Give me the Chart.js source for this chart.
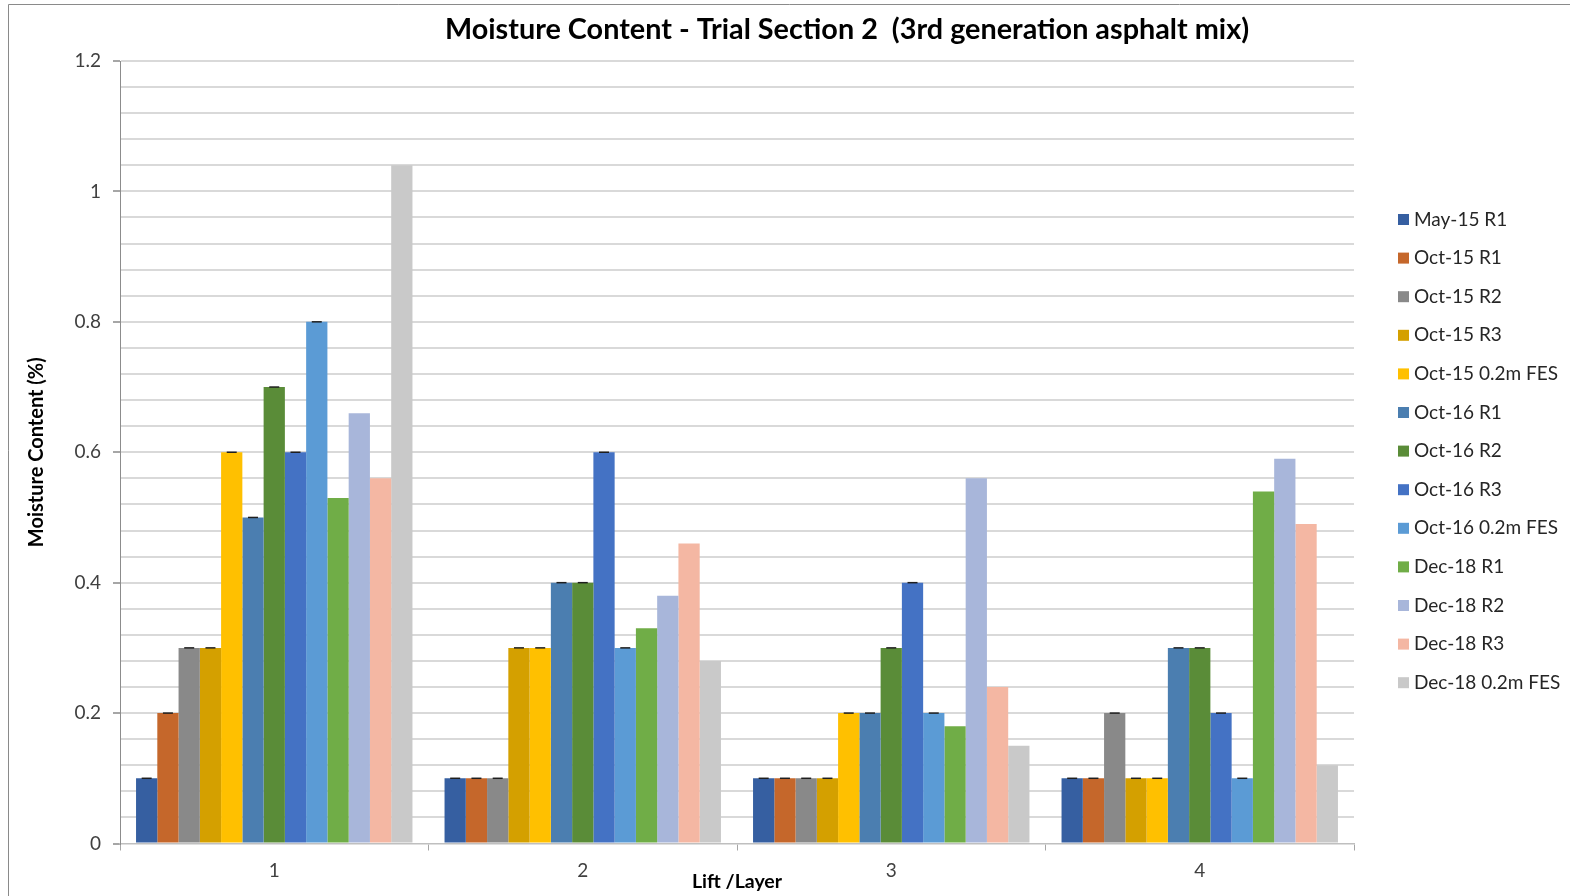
<!DOCTYPE html>
<html>
<head>
<meta charset="utf-8">
<script src="https://cdn.jsdelivr.net/npm/chart.js@4.4.1/dist/chart.umd.min.js"></script>
<style>
  html, body { margin: 0; padding: 0; background: #ffffff; }
  #wrap { width: 1570px; height: 896px; position: relative; }
  canvas { display: block; }
</style>
</head>
<body>
<div id="wrap"><canvas id="chart" width="1570" height="896"></canvas></div>
<script>
// Lift / layer categories
const layers = ['1', '2', '3', '4'];

// Moisture content (%) per sampling round, one value per layer
const may15R1   = [0.1, 0.1, 0.1, 0.1];
const oct15R1   = [0.2, 0.1, 0.1, 0.1];
const oct15R2   = [0.3, 0.1, 0.1, 0.2];
const oct15R3   = [0.3, 0.3, 0.1, 0.1];
const oct15FES  = [0.6, 0.3, 0.2, 0.1];
const oct16R1   = [0.5, 0.4, 0.2, 0.3];
const oct16R2   = [0.7, 0.4, 0.3, 0.3];
const oct16R3   = [0.6, 0.6, 0.4, 0.2];
const oct16FES  = [0.8, 0.3, 0.2, 0.1];
const dec18R1   = [0.53, 0.33, 0.18, 0.54];
const dec18R2   = [0.66, 0.38, 0.56, 0.59];
const dec18R3   = [0.56, 0.46, 0.24, 0.49];
const dec18FES  = [1.04, 0.28, 0.15, 0.12];

const seriesNames = [
  'May-15 R1', 'Oct-15 R1', 'Oct-15 R2', 'Oct-15 R3', 'Oct-15 0.2m FES',
  'Oct-16 R1', 'Oct-16 R2', 'Oct-16 R3', 'Oct-16 0.2m FES',
  'Dec-18 R1', 'Dec-18 R2', 'Dec-18 R3', 'Dec-18 0.2m FES'
];
const seriesValues = [
  may15R1, oct15R1, oct15R2, oct15R3, oct15FES,
  oct16R1, oct16R2, oct16R3, oct16FES,
  dec18R1, dec18R2, dec18R3, dec18FES
];
// Rounds reported with (zero-width) error bars
const withErrorBars = [true, true, true, true, true, true, true, true, true, false, false, false, false];

// Y-axis ticks: minor grid every 0.04, labels every 0.2
const yMin = 0, yMax = 1.2, yStep = 0.04, yLabelStep = 0.2;

const palette = [
  '#365FA1', '#C5672B', '#898989', '#D4A000', '#FFC000',
  '#4B7EB0', '#5A8C38', '#4472C4', '#5B9BD5',
  '#70AD47', '#A8B6DA', '#F4B7A3', '#C9C9C9'
];

const FONT = 'Lato, Carlito, Calibri, "DejaVu Sans", sans-serif';

function isMajor(v) {
  const r = v / yLabelStep;
  return Math.abs(r - Math.round(r)) < 1e-6;
}

// Outer frame of the chart object
const framePlugin = {
  id: 'frame',
  beforeDraw(chart) {
    const ctx = chart.ctx;
    ctx.save();
    ctx.strokeStyle = '#8a8a8a';
    ctx.lineWidth = 1;
    ctx.beginPath();
    ctx.moveTo(8.5, chart.height);
    ctx.lineTo(8.5, 4.5);
    ctx.lineTo(chart.width, 4.5);
    ctx.stroke();
    ctx.restore();
  }
};

// Chart title
const titlePlugin = {
  id: 'mainTitle',
  afterDraw(chart) {
    const ctx = chart.ctx;
    ctx.save();
    ctx.font = 'bold 28.8px ' + FONT;
    ctx.fillStyle = '#000000';
    ctx.textAlign = 'center';
    ctx.textBaseline = 'middle';
    ctx.fillText('Moisture Content - Trial Section 2  (3rd generation asphalt mix)', 847, 30);
    ctx.restore();
  }
};

// Error-bar caps at the top of each bar
const capPlugin = {
  id: 'errorCaps',
  afterDatasetsDraw(chart) {
    const ctx = chart.ctx;
    ctx.save();
    ctx.strokeStyle = '#1e1e1e';
    ctx.lineWidth = 1.5;
    chart.data.datasets.forEach((ds, i) => {
      if (!withErrorBars[i]) return;
      const meta = chart.getDatasetMeta(i);
      meta.data.forEach(bar => {
        const half = 5;
        ctx.beginPath();
        ctx.moveTo(bar.x - half, bar.y);
        ctx.lineTo(bar.x + half, bar.y);
        ctx.stroke();
      });
    });
    ctx.restore();
  }
};

// Legend column on the right
const legendPlugin = {
  id: 'sideLegend',
  afterDraw(chart) {
    const ctx = chart.ctx;
    const x0 = 1398, y0 = 219.5, step = 38.6, box = 11;
    ctx.save();
    ctx.font = '19px ' + FONT;
    ctx.textBaseline = 'middle';
    ctx.textAlign = 'left';
    chart.data.datasets.forEach((ds, i) => {
      const y = y0 + i * step;
      ctx.fillStyle = ds.backgroundColor;
      ctx.fillRect(x0, y - box / 2, box, box);
      ctx.fillStyle = '#262626';
      ctx.fillText(ds.label, x0 + 16, y);
    });
    ctx.restore();
  }
};

const datasets = seriesNames.map((name, i) => ({
  label: name,
  data: seriesValues[i],
  backgroundColor: palette[i],
  borderWidth: 0,
  categoryPercentage: 0.896,
  barPercentage: 1.0
}));

new Chart(document.getElementById('chart'), {
  type: 'bar',
  data: { labels: layers, datasets },
  plugins: [framePlugin, titlePlugin, capPlugin, legendPlugin],
  options: {
    responsive: false,
    animation: false,
    layout: { padding: { left: 0, right: 216, top: 61, bottom: 0 } },
    plugins: {
      legend: { display: false },
      title: { display: false },
      tooltip: { enabled: false }
    },
    scales: {
      x: {
        afterFit(scale) { scale.height = 52.5; },
        grid: {
          display: true,
          drawOnChartArea: false,
          offset: true,
          tickLength: 7,
          tickColor: '#a6a6a6'
        },
        border: { display: true, color: '#bfbfbf', width: 1.5 },
        ticks: {
          color: '#404040',
          font: { family: FONT, size: 19 },
          padding: 9
        },
        title: {
          display: true,
          text: 'Lift /Layer',
          color: '#000000',
          font: { family: FONT, size: 19.5, weight: 'bold' },
          padding: { top: 0, bottom: 3 }
        }
      },
      y: {
        min: yMin,
        max: yMax,
        afterFit(scale) { scale.width = 120; },
        ticks: {
          stepSize: yStep,
          autoSkip: false,
          color: '#404040',
          font: { family: FONT, size: 19 },
          padding: 12,
          callback: (v) => isMajor(v) ? String(Math.round(v * 10) / 10) : ''
        },
        grid: {
          color: (c) => (c.tick && c.tick.value === 0) ? 'rgba(0,0,0,0)' : '#d9d9d9',
          lineWidth: 2,
          tickLength: 7,
          tickColor: (c) => (c.tick && isMajor(c.tick.value)) ? '#a6a6a6' : 'rgba(0,0,0,0)'
        },
        border: { display: true, color: '#8c8c8c', width: 1 },
        title: {
          display: true,
          text: 'Moisture Content (%)',
          color: '#000000',
          font: { family: FONT, size: 20, weight: 'bold' },
          padding: { top: 25, bottom: 0 }
        }
      }
    }
  }
});
</script>
</body>
</html>
